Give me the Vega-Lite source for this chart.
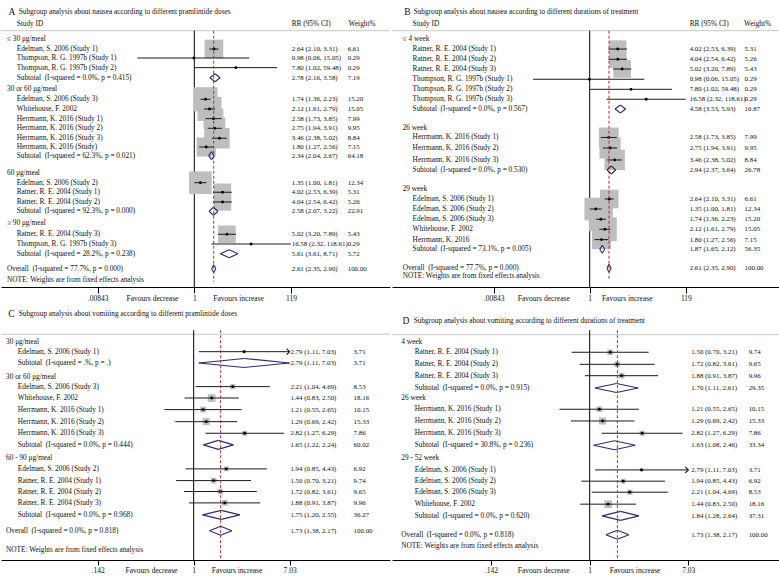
{
"$schema": "https://vega.github.io/schema/vega-lite/v6.json",
"padding": 0,
"background": "white",
"config": {
  "view": {"stroke": null},
  "text": {"font": "Liberation Serif", "fontSize": 7.3, "color": "#111", "align": "left", "baseline": "middle"},
  "axisY": {"disable": true},
  "axisX": {"grid": false, "domainColor": "#000", "domainWidth": 1, "tickColor": "#000", "tickWidth": 1, "labelFont": "Liberation Serif", "labelFontSize": 7.5, "labelColor": "#111", "labelPadding": 1, "labelOverlap": false, "labelFlush": false, "minExtent": 17, "maxExtent": 17}
},
"datasets": {
"A": [
{"kind":"g","label":"≤ 30 μg/meal","row":0},
{"kind":"s","label":"Edelman, S. 2006 (Study 1)","row":1.03,"rr":2.64,"lo":2.10,"hi":3.31,"ci":"2.64 (2.10, 3.31)","w":6.61},
{"kind":"s","label":"Thompson, R. G. 1997b (Study 1)","row":1.95,"rr":0.98,"lo":0.06,"hi":15.05,"ci":"0.98 (0.06, 15.05)","w":0.29},
{"kind":"s","label":"Thompson, R. G. 1997b (Study 2)","row":2.94,"rr":7.80,"lo":1.02,"hi":59.48,"ci":"7.80 (1.02, 59.48)","w":0.29},
{"kind":"t","label":"Subtotal\u00a0\u00a0(I-squared = 0.0%, p = 0.415)","row":3.97,"rr":2.78,"lo":2.16,"hi":3.58,"ci":"2.78 (2.16, 3.58)","w":7.19},
{"kind":"g","label":"30 or 60 μg/meal","row":5.16},
{"kind":"s","label":"Edelman, S. 2006 (Study 3)","row":6.18,"rr":1.74,"lo":1.36,"hi":2.23,"ci":"1.74 (1.36, 2.23)","w":15.20},
{"kind":"s","label":"Whitehouse, F. 2002","row":7.18,"rr":2.12,"lo":1.61,"hi":2.79,"ci":"2.12 (1.61, 2.79)","w":15.05},
{"kind":"s","label":"Herrmann, K. 2016 (Study 1)","row":8.17,"rr":2.58,"lo":1.73,"hi":3.85,"ci":"2.58 (1.73, 3.85)","w":7.99},
{"kind":"s","label":"Herrmann, K. 2016 (Study 2)","row":9.16,"rr":2.75,"lo":1.94,"hi":3.91,"ci":"2.75 (1.94, 3.91)","w":9.95},
{"kind":"s","label":"Herrmann, K. 2016 (Study 3)","row":10.18,"rr":3.46,"lo":2.38,"hi":5.02,"ci":"3.46 (2.38, 5.02)","w":8.84},
{"kind":"s","label":"Herrmann, K. 2016 (Study)","row":11.08,"rr":1.80,"lo":1.27,"hi":2.56,"ci":"1.80 (1.27, 2.56)","w":7.15},
{"kind":"t","label":"Subtotal\u00a0\u00a0(I-squared = 62.3%, p = 0.021)","row":11.97,"rr":2.34,"lo":2.04,"hi":2.67,"ci":"2.34 (2.04, 2.67)","w":64.18},
{"kind":"g","label":"60 μg/meal","row":13.71},
{"kind":"s","label":"Edelman, S. 2006 (Study 2)","row":14.74,"rr":1.35,"lo":1.00,"hi":1.81,"ci":"1.35 (1.00, 1.81)","w":12.34},
{"kind":"s","label":"Ratner, R. E. 2004 (Study 1)","row":15.72,"rr":4.02,"lo":2.53,"hi":6.39,"ci":"4.02 (2.53, 6.39)","w":5.31},
{"kind":"s","label":"Ratner, R. E. 2004 (Study 2)","row":16.72,"rr":4.04,"lo":2.54,"hi":6.42,"ci":"4.04 (2.54, 6.42)","w":5.26},
{"kind":"t","label":"Subtotal\u00a0\u00a0(I-squared = 92.3%, p = 0.000)","row":17.67,"rr":2.58,"lo":2.07,"hi":3.22,"ci":"2.58 (2.07, 3.22)","w":22.91},
{"kind":"g","label":"≥ 90 μg/meal","row":18.9},
{"kind":"s","label":"Ratner, R. E. 2004 (Study 3)","row":20.03,"rr":5.02,"lo":3.20,"hi":7.89,"ci":"5.02 (3.20, 7.89)","w":5.43},
{"kind":"s","label":"Thompson, R. G. 1997b (Study 3)","row":21.03,"rr":16.58,"lo":2.32,"hi":118.61,"ci":"16.58 (2.32, 118.61)","w":0.29},
{"kind":"t","label":"Subtotal\u00a0\u00a0(I-squared = 28.2%, p = 0.238)","row":22.02,"rr":5.61,"lo":3.61,"hi":8.71,"ci":"5.61 (3.61, 8.71)","w":5.72},
{"kind":"o","label":"Overall\u00a0\u00a0(I-squared = 77.7%, p = 0.000)","row":23.56,"rr":2.61,"lo":2.35,"hi":2.90,"ci":"2.61 (2.35, 2.90)","w":100},
{"kind":"n","label":"NOTE: Weights are from fixed effects analysis","row":24.72}
],
"B": [
{"kind":"g","label":"≤ 4 week","row":0},
{"kind":"s","label":"Ratner, R. E. 2004 (Study 1)","row":1.03,"rr":4.02,"lo":2.53,"hi":6.39,"ci":"4.02 (2.53, 6.39)","w":5.31},
{"kind":"s","label":"Ratner, R. E. 2004 (Study 2)","row":2.08,"rr":4.04,"lo":2.54,"hi":6.42,"ci":"4.04 (2.54, 6.42)","w":5.26},
{"kind":"s","label":"Ratner, R. E. 2004 (Study 3)","row":3.08,"rr":5.02,"lo":3.20,"hi":7.89,"ci":"5.02 (3.20, 7.89)","w":5.43},
{"kind":"s","label":"Thompson, R. G. 1997b (Study 1)","row":4.13,"rr":0.98,"lo":0.06,"hi":15.05,"ci":"0.98 (0.06, 15.05)","w":0.29},
{"kind":"s","label":"Thompson, R. G. 1997b (Study 2)","row":5.16,"rr":7.80,"lo":1.02,"hi":59.48,"ci":"7.80 (1.02, 59.48)","w":0.29},
{"kind":"s","label":"Thompson, R. G. 1997b (Study 3)","row":6.18,"rr":16.58,"lo":2.32,"hi":118.61,"ci":"16.58 (2.32, 118.61)","w":0.29},
{"kind":"t","label":"Subtotal\u00a0\u00a0(I-squared = 0.0%, p = 0.567)","row":7.18,"rr":4.58,"lo":3.53,"hi":5.93,"ci":"4.58 (3.53, 5.93)","w":16.87},
{"kind":"g","label":"26 week","row":9.1},
{"kind":"s","label":"Herrmann, K. 2016 (Study 1)","row":10.1,"rr":2.58,"lo":1.73,"hi":3.85,"ci":"2.58 (1.73, 3.85)","w":7.99},
{"kind":"s","label":"Herrmann, K. 2016 (Study 2)","row":11.18,"rr":2.75,"lo":1.94,"hi":3.91,"ci":"2.75 (1.94, 3.91)","w":9.95},
{"kind":"s","label":"Herrmann, K. 2016 (Study 3)","row":12.41,"rr":3.46,"lo":2.38,"hi":5.02,"ci":"3.46 (2.38, 5.02)","w":8.84},
{"kind":"t","label":"Subtotal\u00a0\u00a0(I-squared = 0.0%, p = 0.530)","row":13.44,"rr":2.94,"lo":2.37,"hi":3.64,"ci":"2.94 (2.37, 3.64)","w":26.78},
{"kind":"g","label":"29 week","row":15.35},
{"kind":"s","label":"Edelman, S. 2006 (Study 1)","row":16.41,"rr":2.64,"lo":2.10,"hi":3.31,"ci":"2.64 (2.10, 3.31)","w":6.61},
{"kind":"s","label":"Edelman, S. 2006 (Study 2)","row":17.44,"rr":1.35,"lo":1.00,"hi":1.81,"ci":"1.35 (1.00, 1.81)","w":12.34},
{"kind":"s","label":"Edelman, S. 2006 (Study 3)","row":18.49,"rr":1.74,"lo":1.36,"hi":2.23,"ci":"1.74 (1.36, 2.23)","w":15.20},
{"kind":"s","label":"Whitehouse, F. 2002","row":19.52,"rr":2.12,"lo":1.61,"hi":2.79,"ci":"2.12 (1.61, 2.79)","w":15.05},
{"kind":"s","label":"Herrmann, K. 2016","row":20.58,"rr":1.80,"lo":1.27,"hi":2.56,"ci":"1.80 (1.27, 2.56)","w":7.15},
{"kind":"t","label":"Subtotal\u00a0\u00a0(I-squared = 73.1%, p = 0.005)","row":21.57,"rr":1.87,"lo":1.65,"hi":2.12,"ci":"1.87 (1.65, 2.12)","w":56.35},
{"kind":"o","label":"Overall\u00a0\u00a0(I-squared = 77.7%, p = 0.000)","row":23.52,"rr":2.61,"lo":2.35,"hi":2.90,"ci":"2.61 (2.35, 2.90)","w":100},
{"kind":"n","label":"NOTE: Weights are from fixed effects analysis","row":24.31}
],
"C": [
{"kind":"g","label":"30 μg/meal","row":0},
{"kind":"s","label":"Edelman, S. 2006 (Study 1)","row":0.87,"rr":2.79,"lo":1.11,"hi":7.03,"ci":"2.79 (1.11, 7.03)","w":3.71},
{"kind":"t","label":"Subtotal\u00a0\u00a0(I-squared = .%, p = .)","row":1.85,"rr":2.79,"lo":1.11,"hi":7.03,"ci":"2.79 (1.11, 7.03)","w":3.71},
{"kind":"g","label":"30 or 60 μg/meal","row":3.04},
{"kind":"s","label":"Edelman, S. 2006 (Study 3)","row":3.91,"rr":2.21,"lo":1.04,"hi":4.69,"ci":"2.21 (1.04, 4.69)","w":8.53},
{"kind":"s","label":"Whitehouse, F. 2002","row":4.9,"rr":1.44,"lo":0.83,"hi":2.50,"ci":"1.44 (0.83, 2.50)","w":18.16},
{"kind":"s","label":"Herrmann, K. 2016 (Study 1)","row":5.91,"rr":1.21,"lo":0.55,"hi":2.65,"ci":"1.21 (0.55, 2.65)","w":10.15},
{"kind":"s","label":"Herrmann, K. 2016 (Study 2)","row":6.96,"rr":1.29,"lo":0.69,"hi":2.42,"ci":"1.29 (0.69, 2.42)","w":15.33},
{"kind":"s","label":"Herrmann, K. 2016 (Study 3)","row":7.97,"rr":2.82,"lo":1.27,"hi":6.29,"ci":"2.82 (1.27, 6.29)","w":7.86},
{"kind":"t","label":"Subtotal\u00a0\u00a0(I-squared = 0.0%, p = 0.444)","row":8.98,"rr":1.65,"lo":1.22,"hi":2.24,"ci":"1.65 (1.22, 2.24)","w":60.02},
{"kind":"g","label":"60 - 90 μg/meal","row":10.09},
{"kind":"s","label":"Edelman, S. 2006 (Study 2)","row":11.07,"rr":1.94,"lo":0.85,"hi":4.43,"ci":"1.94 (0.85, 4.43)","w":6.92},
{"kind":"s","label":"Ratner, R. E. 2004 (Study 1)","row":12.09,"rr":1.50,"lo":0.70,"hi":3.21,"ci":"1.50 (0.70, 3.21)","w":9.74},
{"kind":"s","label":"Ratner, R. E. 2004 (Study 2)","row":13.04,"rr":1.72,"lo":0.82,"hi":3.61,"ci":"1.72 (0.82, 3.61)","w":9.65},
{"kind":"s","label":"Ratner, R. E. 2004 (Study 3)","row":14.03,"rr":1.88,"lo":0.91,"hi":3.87,"ci":"1.88 (0.91, 3.87)","w":9.96},
{"kind":"t","label":"Subtotal\u00a0\u00a0(I-squared = 0.0%, p = 0.968)","row":15.07,"rr":1.75,"lo":1.20,"hi":2.55,"ci":"1.75 (1.20, 2.55)","w":36.27},
{"kind":"o","label":"Overall\u00a0\u00a0(I-squared = 0.0%, p = 0.818)","row":16.46,"rr":1.73,"lo":1.38,"hi":2.17,"ci":"1.73 (1.38, 2.17)","w":100},
{"kind":"n","label":"NOTE: Weights are from fixed effects analysis","row":18.17}
],
"D": [
{"kind":"g","label":"4 week","row":0},
{"kind":"s","label":"Ratner, R. E. 2004 (Study 1)","row":0.92,"rr":1.50,"lo":0.70,"hi":3.21,"ci":"1.50 (0.70, 3.21)","w":9.74},
{"kind":"s","label":"Ratner, R. E. 2004 (Study 2)","row":1.97,"rr":1.72,"lo":0.82,"hi":3.61,"ci":"1.72 (0.82, 3.61)","w":9.65},
{"kind":"s","label":"Ratner, R. E. 2004 (Study 3)","row":2.96,"rr":1.88,"lo":0.91,"hi":3.87,"ci":"1.88 (0.91, 3.87)","w":9.96},
{"kind":"t","label":"Subtotal\u00a0\u00a0(I-squared = 0.0%, p = 0.915)","row":4.03,"rr":1.70,"lo":1.11,"hi":2.61,"ci":"1.70 (1.11, 2.61)","w":29.35},
{"kind":"g","label":"26 week","row":4.9},
{"kind":"s","label":"Herrmann, K. 2016 (Study 1)","row":5.88,"rr":1.21,"lo":0.55,"hi":2.65,"ci":"1.21 (0.55, 2.65)","w":10.15},
{"kind":"s","label":"Herrmann, K. 2016 (Study 2)","row":6.9,"rr":1.29,"lo":0.69,"hi":2.42,"ci":"1.29 (0.69, 2.42)","w":15.33},
{"kind":"s","label":"Herrmann, K. 2016 (Study 3)","row":7.97,"rr":2.82,"lo":1.27,"hi":6.29,"ci":"2.82 (1.27, 6.29)","w":7.86},
{"kind":"t","label":"Subtotal\u00a0\u00a0(I-squared = 30.8%, p = 0.236)","row":9.01,"rr":1.63,"lo":1.08,"hi":2.46,"ci":"1.63 (1.08, 2.46)","w":33.34},
{"kind":"g","label":"29 - 52 week","row":10.14},
{"kind":"s","label":"Edelman, S. 2006 (Study 1)","row":11.16,"rr":2.79,"lo":1.11,"hi":7.03,"ci":"2.79 (1.11, 7.03)","w":3.71},
{"kind":"s","label":"Edelman, S. 2006 (Study 2)","row":12.14,"rr":1.94,"lo":0.85,"hi":4.43,"ci":"1.94 (0.85, 4.43)","w":6.92},
{"kind":"s","label":"Edelman, S. 2006 (Study 3)","row":13.1,"rr":2.21,"lo":1.04,"hi":4.69,"ci":"2.21 (1.04, 4.69)","w":8.53},
{"kind":"s","label":"Whitehouse, F. 2002","row":14.14,"rr":1.44,"lo":0.83,"hi":2.50,"ci":"1.44 (0.83, 2.50)","w":18.16},
{"kind":"t","label":"Subtotal\u00a0\u00a0(I-squared = 0.0%, p = 0.620)","row":15.16,"rr":1.84,"lo":1.28,"hi":2.64,"ci":"1.84 (1.28, 2.64)","w":37.31},
{"kind":"o","label":"Overall\u00a0\u00a0(I-squared = 0.0%, p = 0.818)","row":16.81,"rr":1.73,"lo":1.38,"hi":2.17,"ci":"1.73 (1.38, 2.17)","w":100},
{"kind":"n","label":"NOTE: Weights are from fixed effects analysis","row":17.74}
]
},
"concat": [
{
 "width": 389, "height": 287,
 "data": {"name": "A"},
 "layer": [
  {"data":{"values":[{}]},"mark":{"type":"rule","color":"#c8c8c8","strokeWidth":1},"encoding":{"y":{"datum":-0.85,"type":"quantitative"}}},
  {"data":{"values":[{}]},"mark":{"type":"rule","color":"#000","strokeWidth":1},"encoding":{"x":{"datum":1,"type":"quantitative"},"y":{"datum":-0.85,"type":"quantitative"},"y2":{"datum":25.44}}},
  {"transform":[{"filter":"datum.kind=='s'"}],"mark":{"type":"square","color":"#bebebe","opacity":1},
   "encoding":{
    "x":{"field":"rr","type":"quantitative","scale":{"type":"log","domain":[7.08e-5,15890],"nice":false},
         "axis":{"title":null,"values":[0.00843,0.1236,1,8.67,119],"tickSize":6,
          "labelExpr":"datum.value < 0.05 ? '.00843' : datum.value < 0.5 ? 'Favours decrease' : datum.value < 2 ? '1' : datum.value < 50 ? 'Favours increase' : '119'",
          "tickOpacity":{"condition":{"test":"(datum.value > 0.05 && datum.value < 0.5) || (datum.value > 2 && datum.value < 50)","value":0},"value":1}}},
    "y":{"field":"row","type":"quantitative","scale":{"domain":[-4,25.44],"reverse":true,"nice":false,"zero":false}},
    "size":{"field":"w","type":"quantitative","scale":{"type":"sqrt","domain":[0.29,15.2],"range":[0,576]},"legend":null}}},
  {"transform":[{"filter":"datum.kind=='s'"}],"mark":{"type":"rule","color":"#1a1a1a","strokeWidth":1},"encoding":{"x":{"field":"lo","type":"quantitative"},"x2":{"field":"hi"},"y":{"field":"row","type":"quantitative"}}},
  {"transform":[{"filter":"datum.kind=='s'"}],"mark":{"type":"point","shape":"circle","filled":true,"size":8,"color":"#000","opacity":1},"encoding":{"x":{"field":"rr","type":"quantitative"},"y":{"field":"row","type":"quantitative"}}},
  {"transform":[{"filter":"datum.kind=='t' || datum.kind=='o'"}],"mark":{"type":"rule","color":"#27306b","strokeWidth":1.1,"y2Offset":-4},"encoding":{"x":{"field":"lo","type":"quantitative"},"x2":{"field":"rr"},"y":{"field":"row","type":"quantitative"},"y2":{"field":"row"}}},
  {"transform":[{"filter":"datum.kind=='t' || datum.kind=='o'"}],"mark":{"type":"rule","color":"#27306b","strokeWidth":1.1,"y2Offset":4},"encoding":{"x":{"field":"lo","type":"quantitative"},"x2":{"field":"rr"},"y":{"field":"row","type":"quantitative"},"y2":{"field":"row"}}},
  {"transform":[{"filter":"datum.kind=='t' || datum.kind=='o'"}],"mark":{"type":"rule","color":"#27306b","strokeWidth":1.1,"yOffset":-4},"encoding":{"x":{"field":"rr","type":"quantitative"},"x2":{"field":"hi"},"y":{"field":"row","type":"quantitative"},"y2":{"field":"row"}}},
  {"transform":[{"filter":"datum.kind=='t' || datum.kind=='o'"}],"mark":{"type":"rule","color":"#27306b","strokeWidth":1.1,"yOffset":4},"encoding":{"x":{"field":"rr","type":"quantitative"},"x2":{"field":"hi"},"y":{"field":"row","type":"quantitative"},"y2":{"field":"row"}}},
  {"transform":[{"filter":"datum.kind=='o'"}],"mark":{"type":"rule","color":"#a83434","strokeWidth":1,"strokeDash":[3,2]},"encoding":{"x":{"field":"rr","type":"quantitative"},"y":{"datum":-0.85,"type":"quantitative"},"y2":{"datum":24.9}}},
  {"data":{"values":[{}]},"mark":{"type":"text","fontSize":9.5},"encoding":{"x":{"datum":1.02e-4},"y":{"datum":-2.74},"text":{"value":"A"}}},
  {"data":{"values":[{}]},"mark":{"type":"text"},"encoding":{"x":{"datum":1.7e-4},"y":{"datum":-2.74},"text":{"value":"Subgroup analysis about nausea according to different pramlintide doses"}}},
  {"data":{"values":[{}]},"mark":{"type":"text"},"encoding":{"x":{"datum":1.54e-4},"y":{"datum":-1.54},"text":{"value":"Study ID"}}},
  {"data":{"values":[{}]},"mark":{"type":"text"},"encoding":{"x":{"datum":123.3},"y":{"datum":-1.54},"text":{"value":"RR (95% CI)"}}},
  {"data":{"values":[{}]},"mark":{"type":"text"},"encoding":{"x":{"datum":2050},"y":{"datum":-1.54},"text":{"value":"Weight%"}}},
  {"transform":[{"filter":"datum.kind=='g' || datum.kind=='o' || datum.kind=='n'"}],"mark":"text","encoding":{"x":{"datum":9.53e-5},"y":{"field":"row","type":"quantitative"},"text":{"field":"label"}}},
  {"transform":[{"filter":"datum.kind=='s' || datum.kind=='t'"}],"mark":"text","encoding":{"x":{"datum":1.54e-4},"y":{"field":"row","type":"quantitative"},"text":{"field":"label"}}},
  {"transform":[{"filter":"datum.ci"}],"mark":{"type":"text","fontSize":6.9},"encoding":{"x":{"datum":123.3},"y":{"field":"row","type":"quantitative"},"text":{"field":"ci"}}},
  {"transform":[{"filter":"isValid(datum.w)"}],"mark":{"type":"text","fontSize":6.9},"encoding":{"x":{"datum":1964},"y":{"field":"row","type":"quantitative"},"text":{"field":"w","type":"quantitative","format":".2f"}}}
 ]
},
{
 "width": 390, "height": 287,
 "data": {"name": "B"},
 "layer": [
  {"data":{"values":[{}]},"mark":{"type":"rule","color":"#c8c8c8","strokeWidth":1},"encoding":{"y":{"datum":-0.85,"type":"quantitative"}}},
  {"data":{"values":[{}]},"mark":{"type":"rule","color":"#000","strokeWidth":1},"encoding":{"x":{"datum":1,"type":"quantitative"},"y":{"datum":-0.85,"type":"quantitative"},"y2":{"datum":25.44}}},
  {"transform":[{"filter":"datum.kind=='s'"}],"mark":{"type":"square","color":"#bebebe","opacity":1},
   "encoding":{
    "x":{"field":"rr","type":"quantitative","scale":{"type":"log","domain":[5.42e-5,14125],"nice":false},
         "axis":{"title":null,"values":[0.00843,0.0997,1,6.29,119],"tickSize":6,
          "labelExpr":"datum.value < 0.05 ? '.00843' : datum.value < 0.5 ? 'Favours decrease' : datum.value < 2 ? '1' : datum.value < 50 ? 'Favours increase' : '119'",
          "tickOpacity":{"condition":{"test":"(datum.value > 0.05 && datum.value < 0.5) || (datum.value > 2 && datum.value < 50)","value":0},"value":1}}},
    "y":{"field":"row","type":"quantitative","scale":{"domain":[-4,25.44],"reverse":true,"nice":false,"zero":false}},
    "size":{"field":"w","type":"quantitative","scale":{"type":"sqrt","domain":[0.29,15.2],"range":[0,576]},"legend":null}}},
  {"transform":[{"filter":"datum.kind=='s'"}],"mark":{"type":"rule","color":"#1a1a1a","strokeWidth":1},"encoding":{"x":{"field":"lo","type":"quantitative"},"x2":{"field":"hi"},"y":{"field":"row","type":"quantitative"}}},
  {"transform":[{"filter":"datum.kind=='s'"}],"mark":{"type":"point","shape":"circle","filled":true,"size":8,"color":"#000","opacity":1},"encoding":{"x":{"field":"rr","type":"quantitative"},"y":{"field":"row","type":"quantitative"}}},
  {"transform":[{"filter":"datum.kind=='t' || datum.kind=='o'"}],"mark":{"type":"rule","color":"#27306b","strokeWidth":1.1,"y2Offset":-4},"encoding":{"x":{"field":"lo","type":"quantitative"},"x2":{"field":"rr"},"y":{"field":"row","type":"quantitative"},"y2":{"field":"row"}}},
  {"transform":[{"filter":"datum.kind=='t' || datum.kind=='o'"}],"mark":{"type":"rule","color":"#27306b","strokeWidth":1.1,"y2Offset":4},"encoding":{"x":{"field":"lo","type":"quantitative"},"x2":{"field":"rr"},"y":{"field":"row","type":"quantitative"},"y2":{"field":"row"}}},
  {"transform":[{"filter":"datum.kind=='t' || datum.kind=='o'"}],"mark":{"type":"rule","color":"#27306b","strokeWidth":1.1,"yOffset":-4},"encoding":{"x":{"field":"rr","type":"quantitative"},"x2":{"field":"hi"},"y":{"field":"row","type":"quantitative"},"y2":{"field":"row"}}},
  {"transform":[{"filter":"datum.kind=='t' || datum.kind=='o'"}],"mark":{"type":"rule","color":"#27306b","strokeWidth":1.1,"yOffset":4},"encoding":{"x":{"field":"rr","type":"quantitative"},"x2":{"field":"hi"},"y":{"field":"row","type":"quantitative"},"y2":{"field":"row"}}},
  {"transform":[{"filter":"datum.kind=='o'"}],"mark":{"type":"rule","color":"#a83434","strokeWidth":1,"strokeDash":[3,2]},"encoding":{"x":{"field":"rr","type":"quantitative"},"y":{"datum":-0.85,"type":"quantitative"},"y2":{"datum":24.7}}},
  {"data":{"values":[{}]},"mark":{"type":"text","fontSize":9.5},"encoding":{"x":{"datum":9.98e-5},"y":{"datum":-2.74},"text":{"value":"B"}}},
  {"data":{"values":[{}]},"mark":{"type":"text"},"encoding":{"x":{"datum":1.59e-4},"y":{"datum":-2.74},"text":{"value":"Subgroup analysis about nausea according to different durations of treatment"}}},
  {"data":{"values":[{}]},"mark":{"type":"text"},"encoding":{"x":{"datum":1.51e-4},"y":{"datum":-1.54},"text":{"value":"Study ID"}}},
  {"data":{"values":[{}]},"mark":{"type":"text"},"encoding":{"x":{"datum":143.9},"y":{"datum":-1.54},"text":{"value":"RR (95% CI)"}}},
  {"data":{"values":[{}]},"mark":{"type":"text"},"encoding":{"x":{"datum":2150},"y":{"datum":-1.54},"text":{"value":"Weight%"}}},
  {"transform":[{"filter":"datum.kind=='g' || datum.kind=='o' || datum.kind=='n'"}],"mark":"text","encoding":{"x":{"datum":9.22e-5},"y":{"field":"row","type":"quantitative"},"text":{"field":"label"}}},
  {"transform":[{"filter":"datum.kind=='s' || datum.kind=='t'"}],"mark":"text","encoding":{"x":{"datum":1.51e-4},"y":{"field":"row","type":"quantitative"},"text":{"field":"label"}}},
  {"transform":[{"filter":"datum.ci"}],"mark":{"type":"text","fontSize":6.9},"encoding":{"x":{"datum":143.9},"y":{"field":"row","type":"quantitative"},"text":{"field":"ci"}}},
  {"transform":[{"filter":"isValid(datum.w)"}],"mark":{"type":"text","fontSize":6.9},"encoding":{"x":{"datum":2200},"y":{"field":"row","type":"quantitative"},"text":{"field":"w","type":"quantitative","format":".2f"}}}
 ]
},
{
 "width": 389, "height": 256,
 "data": {"name": "C"},
 "layer": [
  {"data":{"values":[{}]},"mark":{"type":"rule","color":"#c8c8c8","strokeWidth":1},"encoding":{"y":{"datum":-0.65,"type":"quantitative"}}},
  {"data":{"values":[{}]},"mark":{"type":"rule","color":"#000","strokeWidth":1},"encoding":{"x":{"datum":1,"type":"quantitative"},"y":{"datum":-1.0,"type":"quantitative"},"y2":{"datum":19.0}}},
  {"transform":[{"filter":"datum.kind=='s'"}],"mark":{"type":"square","color":"#bebebe","opacity":1},
   "encoding":{
    "x":{"field":"rr","type":"quantitative","scale":{"type":"log","domain":[0.0199,54.1],"nice":false},
         "axis":{"title":null,"values":[0.142,0.42,1,2.39,7.03],"tickSize":5,
          "labelExpr":"datum.value < 0.2 ? '.142' : datum.value < 0.9 ? 'Favours decrease' : datum.value < 1.5 ? '1' : datum.value < 5 ? 'Favours increase' : '7.03'",
          "tickOpacity":{"condition":{"test":"(datum.value > 0.2 && datum.value < 0.9) || (datum.value > 1.5 && datum.value < 5)","value":0},"value":1}}},
    "y":{"field":"row","type":"quantitative","scale":{"domain":[-3.28,19.0],"reverse":true,"nice":false,"zero":false}},
    "size":{"field":"w","type":"quantitative","scale":{"type":"linear","domain":[0,18.16],"range":[0,60]},"legend":null}}},
  {"transform":[{"filter":"datum.kind=='s'"}],"mark":{"type":"rule","color":"#1a1a1a","strokeWidth":1},"encoding":{"x":{"field":"lo","type":"quantitative"},"x2":{"field":"hi"},"y":{"field":"row","type":"quantitative"}}},
  {"transform":[{"filter":"datum.kind=='s' && datum.hi >= 7.03"}],"mark":{"type":"point","shape":"M-1,-1L0,0L-1,1","filled":false,"size":36,"strokeWidth":1.2,"color":"#1a1a1a","opacity":1},"encoding":{"x":{"field":"hi","type":"quantitative"},"y":{"field":"row","type":"quantitative"}}},
  {"transform":[{"filter":"datum.kind=='s'"}],"mark":{"type":"point","shape":"circle","filled":true,"size":8,"color":"#000","opacity":1},"encoding":{"x":{"field":"rr","type":"quantitative"},"y":{"field":"row","type":"quantitative"}}},
  {"transform":[{"filter":"datum.kind=='t' || datum.kind=='o'"}],"mark":{"type":"rule","color":"#27306b","strokeWidth":1.1,"y2Offset":-4.5},"encoding":{"x":{"field":"lo","type":"quantitative"},"x2":{"field":"rr"},"y":{"field":"row","type":"quantitative"},"y2":{"field":"row"}}},
  {"transform":[{"filter":"datum.kind=='t' || datum.kind=='o'"}],"mark":{"type":"rule","color":"#27306b","strokeWidth":1.1,"y2Offset":4.5},"encoding":{"x":{"field":"lo","type":"quantitative"},"x2":{"field":"rr"},"y":{"field":"row","type":"quantitative"},"y2":{"field":"row"}}},
  {"transform":[{"filter":"datum.kind=='t' || datum.kind=='o'"}],"mark":{"type":"rule","color":"#27306b","strokeWidth":1.1,"yOffset":-4.5},"encoding":{"x":{"field":"rr","type":"quantitative"},"x2":{"field":"hi"},"y":{"field":"row","type":"quantitative"},"y2":{"field":"row"}}},
  {"transform":[{"filter":"datum.kind=='t' || datum.kind=='o'"}],"mark":{"type":"rule","color":"#27306b","strokeWidth":1.1,"yOffset":4.5},"encoding":{"x":{"field":"rr","type":"quantitative"},"x2":{"field":"hi"},"y":{"field":"row","type":"quantitative"},"y2":{"field":"row"}}},
  {"transform":[{"filter":"datum.kind=='o'"}],"mark":{"type":"rule","color":"#a83434","strokeWidth":1,"strokeDash":[3,2]},"encoding":{"x":{"field":"rr","type":"quantitative"},"y":{"datum":-1.0,"type":"quantitative"},"y2":{"datum":19.0}}},
  {"data":{"values":[{}]},"mark":{"type":"text","fontSize":9.5},"encoding":{"x":{"datum":0.0231},"y":{"datum":-2.41},"text":{"value":"C"}}},
  {"data":{"values":[{}]},"mark":{"type":"text"},"encoding":{"x":{"datum":0.0285},"y":{"datum":-2.41},"text":{"value":"Subgroup analysis about vomiting according to different pramlintide doses"}}},
  {"transform":[{"filter":"datum.kind=='g' || datum.kind=='o' || datum.kind=='n'"}],"mark":"text","encoding":{"x":{"datum":0.02205},"y":{"field":"row","type":"quantitative"},"text":{"field":"label"}}},
  {"transform":[{"filter":"datum.kind=='s' || datum.kind=='t'"}],"mark":"text","encoding":{"x":{"datum":0.028},"y":{"field":"row","type":"quantitative"},"text":{"field":"label"}}},
  {"transform":[{"filter":"datum.ci"}],"mark":{"type":"text","fontSize":6.9},"encoding":{"x":{"datum":7.15},"y":{"field":"row","type":"quantitative"},"text":{"field":"ci"}}},
  {"transform":[{"filter":"isValid(datum.w)"}],"mark":{"type":"text","fontSize":6.9},"encoding":{"x":{"datum":25.8},"y":{"field":"row","type":"quantitative"},"text":{"field":"w","type":"quantitative","format":".2f"}}}
 ]
},
{
 "width": 390, "height": 256,
 "data": {"name": "D"},
 "layer": [
  {"data":{"values":[{}]},"mark":{"type":"rule","color":"#c8c8c8","strokeWidth":1},"encoding":{"y":{"datum":-0.61,"type":"quantitative"}}},
  {"data":{"values":[{}]},"mark":{"type":"rule","color":"#000","strokeWidth":1},"encoding":{"x":{"datum":1,"type":"quantitative"},"y":{"datum":-1.0,"type":"quantitative"},"y2":{"datum":19.0}}},
  {"transform":[{"filter":"datum.kind=='s'"}],"mark":{"type":"square","color":"#bebebe","opacity":1},
   "encoding":{
    "x":{"field":"rr","type":"quantitative","scale":{"type":"log","domain":[0.02004,44.87],"nice":false},
         "axis":{"title":null,"values":[0.142,0.399,1,2.43,7.03],"tickSize":5,
          "labelExpr":"datum.value < 0.2 ? '.142' : datum.value < 0.9 ? 'Favours decrease' : datum.value < 1.5 ? '1' : datum.value < 5 ? 'Favours increase' : '7.03'",
          "tickOpacity":{"condition":{"test":"(datum.value > 0.2 && datum.value < 0.9) || (datum.value > 1.5 && datum.value < 5)","value":0},"value":1}}},
    "y":{"field":"row","type":"quantitative","scale":{"domain":[-3.28,19.0],"reverse":true,"nice":false,"zero":false}},
    "size":{"field":"w","type":"quantitative","scale":{"type":"linear","domain":[0,18.16],"range":[0,60]},"legend":null}}},
  {"transform":[{"filter":"datum.kind=='s'"}],"mark":{"type":"rule","color":"#1a1a1a","strokeWidth":1},"encoding":{"x":{"field":"lo","type":"quantitative"},"x2":{"field":"hi"},"y":{"field":"row","type":"quantitative"}}},
  {"transform":[{"filter":"datum.kind=='s' && datum.hi >= 7.03"}],"mark":{"type":"point","shape":"M-1,-1L0,0L-1,1","filled":false,"size":36,"strokeWidth":1.2,"color":"#1a1a1a","opacity":1},"encoding":{"x":{"field":"hi","type":"quantitative"},"y":{"field":"row","type":"quantitative"}}},
  {"transform":[{"filter":"datum.kind=='s'"}],"mark":{"type":"point","shape":"circle","filled":true,"size":8,"color":"#000","opacity":1},"encoding":{"x":{"field":"rr","type":"quantitative"},"y":{"field":"row","type":"quantitative"}}},
  {"transform":[{"filter":"datum.kind=='t' || datum.kind=='o'"}],"mark":{"type":"rule","color":"#27306b","strokeWidth":1.1,"y2Offset":-4.5},"encoding":{"x":{"field":"lo","type":"quantitative"},"x2":{"field":"rr"},"y":{"field":"row","type":"quantitative"},"y2":{"field":"row"}}},
  {"transform":[{"filter":"datum.kind=='t' || datum.kind=='o'"}],"mark":{"type":"rule","color":"#27306b","strokeWidth":1.1,"y2Offset":4.5},"encoding":{"x":{"field":"lo","type":"quantitative"},"x2":{"field":"rr"},"y":{"field":"row","type":"quantitative"},"y2":{"field":"row"}}},
  {"transform":[{"filter":"datum.kind=='t' || datum.kind=='o'"}],"mark":{"type":"rule","color":"#27306b","strokeWidth":1.1,"yOffset":-4.5},"encoding":{"x":{"field":"rr","type":"quantitative"},"x2":{"field":"hi"},"y":{"field":"row","type":"quantitative"},"y2":{"field":"row"}}},
  {"transform":[{"filter":"datum.kind=='t' || datum.kind=='o'"}],"mark":{"type":"rule","color":"#27306b","strokeWidth":1.1,"yOffset":4.5},"encoding":{"x":{"field":"rr","type":"quantitative"},"x2":{"field":"hi"},"y":{"field":"row","type":"quantitative"},"y2":{"field":"row"}}},
  {"transform":[{"filter":"datum.kind=='o'"}],"mark":{"type":"rule","color":"#a83434","strokeWidth":1,"strokeDash":[3,2]},"encoding":{"x":{"field":"rr","type":"quantitative"},"y":{"datum":-1.0,"type":"quantitative"},"y2":{"datum":19.0}}},
  {"data":{"values":[{}]},"mark":{"type":"text","fontSize":9.5},"encoding":{"x":{"datum":0.0247},"y":{"datum":-1.77},"text":{"value":"D"}}},
  {"data":{"values":[{}]},"mark":{"type":"text"},"encoding":{"x":{"datum":0.0308},"y":{"datum":-1.77},"text":{"value":"Subgroup analysis about vomiting according to different durations of treatment"}}},
  {"transform":[{"filter":"datum.kind=='g' || datum.kind=='o' || datum.kind=='n'"}],"mark":"text","encoding":{"x":{"datum":0.0241},"y":{"field":"row","type":"quantitative"},"text":{"field":"label"}}},
  {"transform":[{"filter":"datum.kind=='s' || datum.kind=='t'"}],"mark":"text","encoding":{"x":{"datum":0.0314},"y":{"field":"row","type":"quantitative"},"text":{"field":"label"}}},
  {"transform":[{"filter":"datum.ci"}],"mark":{"type":"text","fontSize":6.9},"encoding":{"x":{"datum":7.46},"y":{"field":"row","type":"quantitative"},"text":{"field":"ci"}}},
  {"transform":[{"filter":"isValid(datum.w)"}],"mark":{"type":"text","fontSize":6.9},"encoding":{"x":{"datum":23.2},"y":{"field":"row","type":"quantitative"},"text":{"field":"w","type":"quantitative","format":".2f"}}}
 ]
}
],
"columns": 2,
"spacing": 0,
"resolve": {"scale": {"size": "independent"}}
}
